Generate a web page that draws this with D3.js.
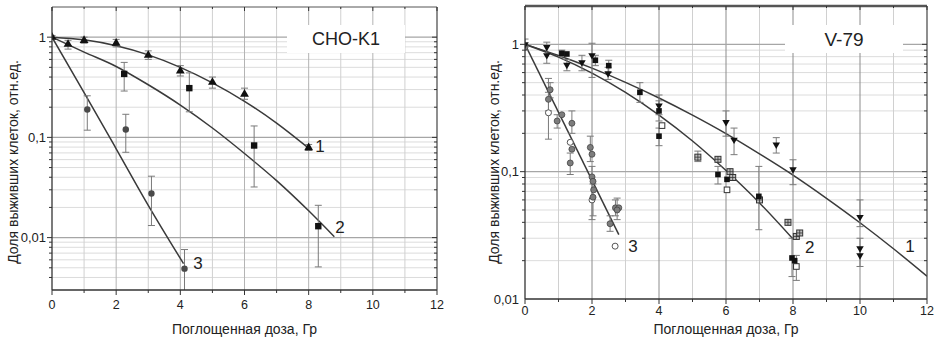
<!DOCTYPE html>
<html>
<head>
<meta charset="utf-8">
<script src="https://cdn.jsdelivr.net/npm/d3@7"></script>
<style>
  body { margin: 0; background: #fff; }
  svg { display: block; }
</style>
</head>
<body>
<div id="chart"></div>
<script>
// ---------- shared axis values ----------
const xTickValues = [0, 2, 4, 6, 8, 10, 12];
const yTickValues = [1, 0.1, 0.01];
const yTickLabels = ['1', '0,1', '0,01'];
const yTitle = 'Доля выживших клеток, отн.ед.';
const xTitle = 'Поглощенная доза, Гр';

// ---------- CHO-K1 (left) : [dose, survival, lower, upper] ----------
const choTriangles = [
  [0, 1.0, 0.96, 1.04], [0.5, 0.85, 0.76, 0.93], [1, 0.93, 0.87, 1.0],
  [2, 0.87, 0.8, 0.95], [3, 0.66, 0.6, 0.73], [4, 0.46, 0.41, 0.52],
  [5, 0.355, 0.31, 0.4], [6, 0.27, 0.24, 0.31], [8, 0.079, 0.074, 0.085]
];
const choSquares = [
  [2.25, 0.43, 0.29, 0.56], [4.28, 0.31, 0.18, 0.44],
  [6.3, 0.083, 0.032, 0.13], [8.3, 0.013, 0.0051, 0.021]
];
const choCircles = [
  [1.1, 0.19, 0.118, 0.26], [2.3, 0.12, 0.071, 0.17],
  [3.1, 0.0275, 0.0132, 0.041], [4.13, 0.0049, 0.0028, 0.0076]
];
// fitted curves
const choFit1Dose = [0, 1, 2, 3, 4, 5, 6, 7, 8];
const choFit1Surv = [1, 0.94, 0.82, 0.666, 0.5, 0.35, 0.229, 0.139, 0.078];
const choFit2Dose = [0, 1, 2, 3, 4, 5, 6, 7, 8, 8.8];
const choFit2Surv = [1, 0.71, 0.51, 0.335, 0.21, 0.124, 0.069, 0.037, 0.0185, 0.0102];
const choFit3Dose = [0, 1, 2, 3, 4.1];
const choFit3Surv = [1, 0.28, 0.077, 0.021, 0.0055];

// ---------- V-79 (right) ----------
const v79Triangles = [
  [0, 1.0, 0.9, 1.1], [0.65, 0.95, 0.71, 1.04], [0.65, 0.82, null, null],
  [1.25, 0.69, 0.62, 0.76], [1.7, 0.72, 0.62, 0.82], [2.0, 0.82, 0.55, 1.02],
  [2.48, 0.59, 0.53, 0.66], [4.0, 0.33, 0.28, 0.4], [6.0, 0.245, 0.19, 0.3],
  [6.24, 0.178, 0.136, 0.22], [7.5, 0.163, 0.14, 0.185], [8.0, 0.104, 0.079, 0.124],
  [10, 0.044, 0.037, 0.06], [10, 0.025, null, null], [10, 0.022, 0.018, 0.03]
];
const v79Squares = [
  [1.1, 0.85, 0.8, 0.9], [1.25, 0.84, null, null], [2.1, 0.75, 0.68, 0.82],
  [2.5, 0.68, 0.6, 0.75], [3.43, 0.42, 0.35, 0.5], [4.0, 0.3, 0.25, 0.36],
  [4.0, 0.19, 0.16, 0.22], [5.76, 0.095, 0.08, 0.11], [6.03, 0.087, null, null],
  [6.98, 0.064, 0.035, 0.11], [7.97, 0.021, 0.015, 0.03], [8.05, 0.02, null, null]
];
const v79CrossSquares = [
  [5.16, 0.13, 0.12, 0.145], [5.76, 0.125, null, null], [6.12, 0.1, null, null],
  [6.2, 0.09, null, null], [7.0, 0.06, null, null], [7.85, 0.04, null, null],
  [8.1, 0.031, null, null], [8.2, 0.033, null, null]
];
const v79OpenSquares = [
  [4.09, 0.23, null, null], [6.03, 0.072, null, null], [8.1, 0.018, 0.014, 0.022]
];
const v79Circles = [
  [0, 0.95, null, null], [0.75, 0.44, 0.38, 0.5], [0.7, 0.37, 0.3, 0.42],
  [0.96, 0.25, 0.22, 0.28], [1.1, 0.28, null, null], [1.4, 0.24, 0.2, 0.3],
  [1.35, 0.117, 0.095, 0.14], [1.4, 0.15, null, null], [1.95, 0.155, 0.12, 0.19],
  [2.0, 0.137, null, null], [2.0, 0.091, 0.042, 0.11], [2.03, 0.084, null, null],
  [2.05, 0.072, null, null], [2.03, 0.063, 0.045, 0.08], [2.54, 0.039, 0.034, 0.045],
  [2.7, 0.052, 0.045, 0.06], [2.8, 0.052, null, null], [2.75, 0.05, 0.042, 0.062]
];
const v79OpenCircles = [
  [0.7, 0.29, 0.18, 0.54], [1.35, 0.17, null, null], [2.0, 0.06, null, null],
  [2.69, 0.026, null, null]
];
const v79Fit1Dose = [0, 1, 2, 3, 4, 5, 6, 7, 8, 9, 10, 11, 12];
const v79Fit1Surv = [1, 0.817, 0.65, 0.503, 0.379, 0.278, 0.199, 0.138, 0.094, 0.0618, 0.0397, 0.0248, 0.0151];
const v79Fit2Dose = [0, 1, 2, 3, 4, 5, 6, 7, 8];
const v79Fit2Surv = [1, 0.794, 0.594, 0.419, 0.278, 0.174, 0.102, 0.0568, 0.0296];
const v79Fit3Dose = [0, 2.8];
const v79Fit3Surv = [1, 0.032];

// ---------- layout ----------
const width = 937, height = 339;
const svg = d3.select('#chart').append('svg')
  .attr('width', width)
  .attr('height', height)
  .style('font-family', '"Liberation Sans", Arial, sans-serif');

const panels = [
  {
    id: 'cho', left: 52, right: 437, top: 7, bottom: 290, yDomain: [0.003, 2],
    topStroke: 1, title: 'CHO-K1', box: { x: 287, y: 25, w: 118, h: 28 }, titleSize: 18,
    yTitleX: 13, tickGap: 19,
    fits: [[choFit1Dose, choFit1Surv], [choFit2Dose, choFit2Surv], [choFit3Dose, choFit3Surv]],
    curveLabels: [['1', 8.35, 0.083], ['2', 8.98, 0.0129], ['3', 4.55, 0.0056]],
    groups: [
      { pts: choTriangles, shape: 'triUp' },
      { pts: choSquares, shape: 'square' },
      { pts: choCircles, shape: 'circleDark' }
    ]
  },
  {
    id: 'v79', left: 525, right: 927, top: 6, bottom: 299, yDomain: [0.01, 2],
    topStroke: 2.5, title: 'V-79', box: { x: 785, y: 25, w: 118, h: 28 }, titleSize: 19,
    yTitleX: 494, tickGap: 16,
    fits: [[v79Fit1Dose, v79Fit1Surv], [v79Fit2Dose, v79Fit2Surv], [v79Fit3Dose, v79Fit3Surv]],
    curveLabels: [['1', 11.49, 0.026], ['2', 8.5, 0.0255], ['3', 3.22, 0.026]],
    groups: [
      { pts: v79OpenCircles, shape: 'circleOpen' },
      { pts: v79Circles, shape: 'circle' },
      { pts: v79OpenSquares, shape: 'squareOpen' },
      { pts: v79CrossSquares, shape: 'squareCross' },
      { pts: v79Squares, shape: 'squareSmall' },
      { pts: v79Triangles, shape: 'triDown' }
    ]
  }
];

const isDecade = d => Math.abs(Math.log10(d) - Math.round(Math.log10(d))) < 1e-6;

panels.forEach(p => {
  const x = d3.scaleLinear().domain([0, 12]).range([p.left, p.right]);
  const y = d3.scaleLog().domain(p.yDomain).range([p.bottom, p.top]);
  const g = svg.append('g');

  g.append('clipPath').attr('id', `clip-${p.id}`)
    .append('rect')
    .attr('x', p.left).attr('y', p.top)
    .attr('width', p.right - p.left).attr('height', p.bottom - p.top);

  // minor horizontal grid
  const yAll = y.ticks().filter(d => d > p.yDomain[0] && d < p.yDomain[1]);
  g.append('g').selectAll('line')
    .data(yAll.filter(d => !isDecade(d)))
    .join('line')
    .attr('x1', p.left).attr('x2', p.right)
    .attr('y1', d => y(d)).attr('y2', d => y(d))
    .attr('stroke', '#dcdcdc').attr('stroke-width', 1);

  // vertical grid
  const xInts = d3.range(1, 12);
  g.append('g').selectAll('line')
    .data(xInts)
    .join('line')
    .attr('x1', d => x(d)).attr('x2', d => x(d))
    .attr('y1', p.top).attr('y2', p.bottom)
    .attr('stroke', d => d % 2 === 0 ? (p.id === 'v79' ? '#8c8c8c' : '#b4b4b4') : '#d0d0d0')
    .attr('stroke-width', 1);

  // decade lines
  g.append('g').selectAll('line')
    .data(yAll.filter(isDecade))
    .join('line')
    .attr('x1', p.left).attr('x2', p.right)
    .attr('y1', d => y(d)).attr('y2', d => y(d))
    .attr('stroke', '#a6a6a6').attr('stroke-width', 1.3);

  // legend box
  g.append('rect')
    .attr('x', p.box.x).attr('y', p.box.y)
    .attr('width', p.box.w).attr('height', p.box.h)
    .attr('fill', '#fff');
  g.append('text')
    .attr('x', p.box.x + p.box.w / 2)
    .attr('y', p.box.y + p.box.h / 2)
    .attr('dy', '0.35em')
    .attr('text-anchor', 'middle')
    .attr('font-size', p.titleSize)
    .attr('fill', '#222')
    .text(p.title);

  const plot = g.append('g').attr('clip-path', `url(#clip-${p.id})`);

  // fitted curves
  const line = d3.line()
    .x(d => x(d[0]))
    .y(d => y(d[1]))
    .curve(d3.curveMonotoneX);
  p.fits.forEach(([dose, surv]) => {
    plot.append('path')
      .datum(dose.map((d, i) => [d, surv[i]]))
      .attr('d', line)
      .attr('fill', 'none')
      .attr('stroke', '#3a3a3a')
      .attr('stroke-width', 1.5);
  });

  // error bars
  p.groups.forEach(grp => {
    const withErr = grp.pts.filter(d => d[2] != null);
    const eb = plot.append('g').attr('stroke', '#7a7a7a').attr('stroke-width', 1);
    eb.selectAll('line.v').data(withErr).join('line')
      .attr('x1', d => x(d[0])).attr('x2', d => x(d[0]))
      .attr('y1', d => y(d[2])).attr('y2', d => y(d[3]));
    [2, 3].forEach(k => {
      eb.selectAll(`line.c${k}`).data(withErr).join('line')
        .attr('x1', d => x(d[0]) - 3.5).attr('x2', d => x(d[0]) + 3.5)
        .attr('y1', d => y(d[k])).attr('y2', d => y(d[k]));
    });
  });

  // markers
  const tri = d3.symbol().type(d3.symbolTriangle);
  p.groups.forEach(grp => {
    const mg = plot.append('g');
    grp.pts.forEach(d => {
      const cx = x(d[0]), cy = y(d[1]);
      const node = mg.append('g').attr('transform', `translate(${cx},${cy})`);
      switch (grp.shape) {
        case 'triUp':
          node.append('path').attr('d', tri.size(34)()).attr('fill', '#111');
          break;
        case 'triDown':
          node.append('path').attr('d', tri.size(24)()).attr('transform', 'rotate(180)').attr('fill', '#111');
          break;
        case 'square':
          node.append('rect').attr('x', -3.2).attr('y', -3.2).attr('width', 6.4).attr('height', 6.4).attr('fill', '#111');
          break;
        case 'squareSmall':
          node.append('rect').attr('x', -2.8).attr('y', -2.8).attr('width', 5.6).attr('height', 5.6).attr('fill', '#111');
          break;
        case 'squareOpen':
          node.append('rect').attr('x', -2.8).attr('y', -2.8).attr('width', 5.6).attr('height', 5.6)
            .attr('fill', '#fff').attr('stroke', '#333').attr('stroke-width', 1);
          break;
        case 'squareCross':
          node.append('rect').attr('x', -3).attr('y', -3).attr('width', 6).attr('height', 6)
            .attr('fill', '#bdbdbd').attr('stroke', '#333').attr('stroke-width', 1);
          node.append('path').attr('d', 'M-3,0H3M0,-3V3').attr('stroke', '#333').attr('stroke-width', 0.8);
          break;
        case 'circleDark':
          node.append('circle').attr('r', 3.2).attr('fill', '#4a4a4a');
          break;
        case 'circle':
          node.append('circle').attr('r', 3).attr('fill', '#7d7d7d').attr('stroke', '#444').attr('stroke-width', 0.8);
          break;
        case 'circleOpen':
          node.append('circle').attr('r', 3).attr('fill', '#fff').attr('stroke', '#555').attr('stroke-width', 1);
          break;
      }
    });
  });

  // frame
  g.append('line').attr('x1', p.left).attr('x2', p.right).attr('y1', p.top).attr('y2', p.top)
    .attr('stroke', '#555').attr('stroke-width', p.topStroke);
  g.append('line').attr('x1', p.left).attr('x2', p.right).attr('y1', p.bottom).attr('y2', p.bottom)
    .attr('stroke', '#333').attr('stroke-width', 1.3);
  g.append('line').attr('x1', p.left).attr('x2', p.left).attr('y1', p.top).attr('y2', p.bottom)
    .attr('stroke', '#333').attr('stroke-width', 1.3);
  g.append('line').attr('x1', p.right).attr('x2', p.right).attr('y1', p.top).attr('y2', p.bottom)
    .attr('stroke', '#444').attr('stroke-width', 1.2);

  // tick marks
  const tk = g.append('g').attr('stroke', '#333').attr('stroke-width', 1);
  d3.range(0, 13).forEach(d => {
    const len = d % 2 === 0 ? 5 : 3;
    tk.append('line').attr('x1', x(d)).attr('x2', x(d)).attr('y1', p.bottom).attr('y2', p.bottom + len);
    tk.append('line').attr('x1', x(d)).attr('x2', x(d)).attr('y1', p.top).attr('y2', p.top + len - 1);
  });
  yAll.forEach(d => {
    const len = isDecade(d) ? 5 : 3;
    tk.append('line').attr('x1', p.left - len).attr('x2', p.left).attr('y1', y(d)).attr('y2', y(d));
    tk.append('line').attr('x1', p.right - len).attr('x2', p.right).attr('y1', y(d)).attr('y2', y(d));
  });

  // tick labels
  g.append('g').selectAll('text')
    .data(xTickValues)
    .join('text')
    .attr('x', d => x(d))
    .attr('y', p.bottom + p.tickGap)
    .attr('text-anchor', 'middle')
    .attr('font-size', 12.5)
    .attr('fill', '#222')
    .text(d => d);
  g.append('g').selectAll('text')
    .data(yTickValues)
    .join('text')
    .attr('x', p.left - 6)
    .attr('y', d => y(d))
    .attr('dy', '0.35em')
    .attr('text-anchor', 'end')
    .attr('font-size', 13)
    .attr('fill', '#222')
    .text((d, i) => yTickLabels[i]);

  // curve labels
  g.append('g').selectAll('text')
    .data(p.curveLabels)
    .join('text')
    .attr('x', d => x(d[1]))
    .attr('y', d => y(d[2]))
    .attr('dy', '0.36em')
    .attr('text-anchor', 'middle')
    .attr('font-size', 17)
    .attr('fill', '#222')
    .text(d => d[0]);

  // axis titles
  g.append('text')
    .attr('x', (p.left + p.right) / 2)
    .attr('y', 334)
    .attr('text-anchor', 'middle')
    .attr('font-size', 14)
    .attr('fill', '#222')
    .text(xTitle);
  g.append('text')
    .attr('transform', `translate(${p.yTitleX}, 162) rotate(-90)`)
    .attr('dy', '0.35em')
    .attr('text-anchor', 'middle')
    .attr('font-size', 14)
    .attr('fill', '#222')
    .text(yTitle);
});
</script>
</body>
</html>
